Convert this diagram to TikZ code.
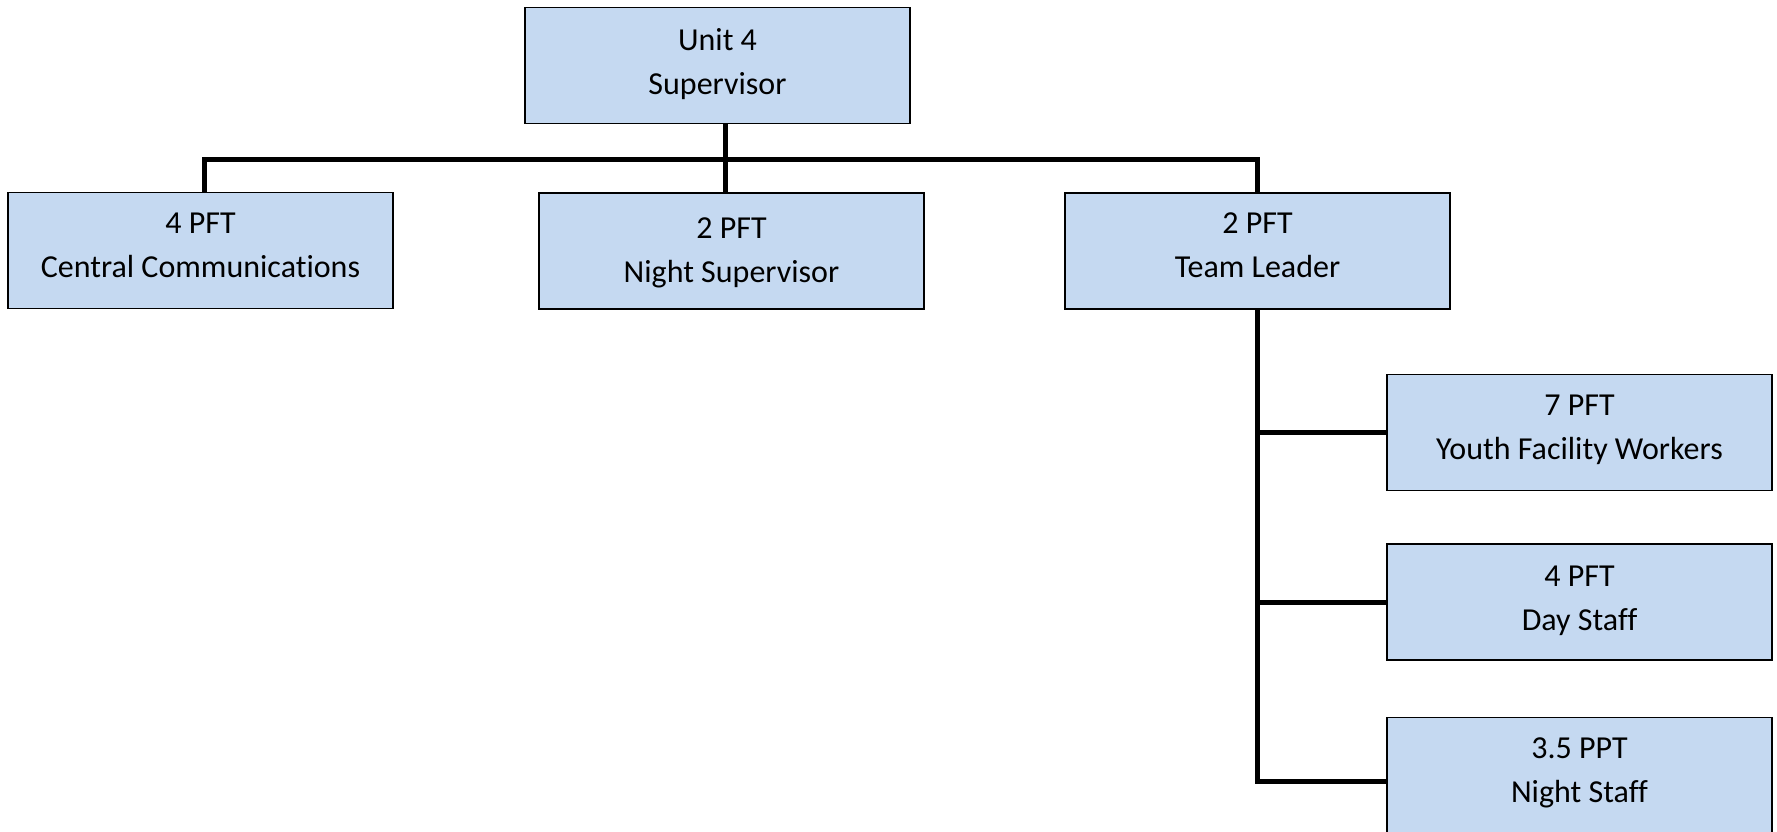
\documentclass[tikz,border=0pt]{standalone}
\usepackage{fontspec}
\setmainfont[Ligatures=NoCommon]{Carlito}
\usetikzlibrary{calc}
\definecolor{boxfill}{RGB}{197,217,241}
% two centred lines of text
\newcommand{\twolines}[2]{\begin{tabular}{@{}c@{}}#1\\#2\end{tabular}}
\tikzset{
  orgbox/.style={draw=black, line width=1.5pt, fill=boxfill, minimum width=385pt,
    minimum height=116pt, inner sep=0pt},
  orgtext/.style={inner sep=0pt, align=center, font=\fontsize{32}{44}\selectfont},
  link/.style={draw=black, line width=5pt}
}
\begin{document}
\begin{tikzpicture}[x=1pt, y=-1pt]
  \useasboundingbox (0,0) rectangle (1777,831);

  % boxes
  \node[orgbox] (sup) at (717.5,65.5) {};
  \node[orgbox] (cc)  at (200.5,250.5) {};
  \node[orgbox] (ns)  at (731.5,251) {};
  \node[orgbox] (tl)  at (1257.5,251) {};
  \node[orgbox] (yfw) at (1579.5,432.5) {};
  \node[orgbox] (ds)  at (1579.5,602) {};
  \node[orgbox] (nst) at (1579.5,775.5) {};

  % box texts
  \node[orgtext] (sup-t) at ($(sup)+(0,-2.3)$) {\twolines{Unit 4}{Supervisor}};
  \node[orgtext] (cc-t)  at ($(cc)+(0,-3.4)$)  {\twolines{4 PFT}{Central Communications}};
  \node[orgtext] (ns-t)  at ($(ns)+(0,1.1)$)   {\twolines{2 PFT}{Night Supervisor}};
  \node[orgtext] (tl-t)  at ($(tl)+(0,-4.5)$)  {\twolines{2 PFT}{Team Leader}};
  \node[orgtext] (yfw-t) at ($(yfw)+(0,-3.4)$) {\twolines{7 PFT}{Youth Facility Workers}};
  \node[orgtext] (ds-t)  at ($(ds)+(0,-2.3)$)  {\twolines{4 PFT}{Day Staff}};
  \node[orgtext] (nst-t) at ($(nst)+(0,-3.4)$) {\twolines{3.5 PPT}{Night Staff}};

  % bus under the supervisor
  \coordinate (bus) at (725,159);
  \coordinate (ccj) at ($(cc.north)+(3.5,0)$);
  \draw[link] (bus |- sup.south) -- (bus |- ns.north);
  \draw[link] (ccj) -- (ccj |- bus) -- (tl.north |- bus) -- (tl.north);

  % team leader branches
  \coordinate (nstj) at ($(nst.west)+(0,5.5)$);
  \draw[link] (tl.south) -- (tl.south |- nstj) -- (nstj);
  \draw[link] (tl.south |- yfw.west) -- (yfw.west);
  \draw[link] (tl.south |- ds.west) -- (ds.west);
\end{tikzpicture}
\end{document}
